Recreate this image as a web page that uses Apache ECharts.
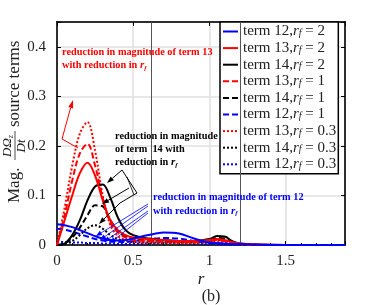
<!DOCTYPE html>
<html><head><meta charset="utf-8">
<script src="https://cdn.jsdelivr.net/npm/echarts@6/dist/echarts.min.js"></script>
<style>html,body{margin:0;padding:0;background:#fff}#c{width:382px;height:305px}</style>
</head><body><div id="c"></div>
<script>
// ---- data ----
const rVals   = [0, 0.05, 0.1, 0.15, 0.2, 0.25, 0.3, 0.35, 0.4, 0.45, 0.5, 0.6, 0.7, 0.8, 0.9, 1.0, 1.05, 1.1, 1.15, 1.2, 1.3, 1.5, 1.89];
const t12_rf2 = [0.042,0.040,0.036,0.030,0.024,0.018,0.013,0.010,0.009,0.010,0.013,0.020,0.025,0.023,0.013,0.005,0.004,0.003,0.002,0.002,0.001,0,0];
const t13_rf2 = [0,0.050,0.100,0.145,0.166,0.140,0.090,0.050,0.030,0.020,0.015,0.012,0.010,0.008,0.008,0.010,0.012,0.010,0.006,0.003,0.001,0,0];
const t14_rf2 = [0,0.003,0.020,0.050,0.090,0.118,0.122,0.095,0.055,0.030,0.020,0.013,0.010,0.008,0.008,0.012,0.018,0.017,0.008,0.003,0.001,0,0];
const t13_rf1 = [0,0.060,0.130,0.185,0.204,0.160,0.095,0.045,0.025,0.015,0.010,0.008,0.007,0.006,0.006,0.008,0.010,0.008,0.005,0.002,0,0,0];
const t14_rf1 = [0,0.003,0.015,0.035,0.060,0.080,0.078,0.050,0.028,0.017,0.012,0.009,0.008,0.007,0.007,0.010,0.014,0.013,0.006,0.002,0,0,0];
const t12_rf1 = [0.033,0.031,0.027,0.022,0.017,0.012,0.009,0.007,0.006,0.006,0.008,0.012,0.014,0.013,0.008,0.004,0.003,0.002,0.001,0.001,0,0,0];
const t13_rf03 = [0,0.075,0.160,0.225,0.248,0.190,0.100,0.040,0.018,0.010,0.007,0.005,0.005,0.004,0.004,0.006,0.008,0.006,0.004,0.001,0,0,0];
const t14_rf03 = [0,0.002,0.008,0.020,0.034,0.040,0.033,0.020,0.012,0.008,0.006,0.005,0.005,0.005,0.005,0.007,0.010,0.009,0.004,0.001,0,0,0];
const t12_rf03 = [0.006,0.006,0.005,0.005,0.004,0.004,0.003,0.003,0.002,0.002,0.002,0.003,0.004,0.004,0.003,0.002,0.002,0.001,0.001,0,0,0,0];
const seriesTerms = ['12','13','14','13','14','12','13','14','12'];
const seriesRf    = ['2','2','2','1','1','1','0.3','0.3','0.3'];
const seriesVals  = [t12_rf2,t13_rf2,t14_rf2,t13_rf1,t14_rf1,t12_rf1,t13_rf03,t14_rf03,t12_rf03];
const xTickLabels = [0, 0.5, 1, 1.5];
const yTickLabels = [0, 0.1, 0.2, 0.3, 0.4];
const vLines = [0.62, 1.2];

// ---- styles ----
const seriesColors = ['#0000ff','#ff0000','#000000','#ff0000','#000000','#0000ff','#ff0000','#000000','#0000ff'];
const seriesDash   = ['solid','solid','solid',[6,3],[6,3],[6,3],[2,2],[2,2],[2,2]];
const SERIF = '"Liberation Serif", "DejaVu Serif", serif';
const subRich = {
  i: {fontFamily: SERIF, fontStyle: 'italic', fontSize: 15, lineHeight: 14},
  s: {fontFamily: SERIF, fontStyle: 'italic', fontSize: 10, lineHeight: 10, verticalAlign: 'bottom', padding: [4,0,0,0]}
};
const annRich = (c) => ({
  i: {fontFamily: SERIF, fontStyle: 'italic', fontWeight: 'bold', fontSize: 11, fill: c},
  s: {fontFamily: SERIF, fontStyle: 'italic', fontWeight: 'bold', fontSize: 7, fill: c, padding: [5,0,0,0]}
});

const names = seriesTerms.map((t,i) => 'term ' + t + ',r_f = ' + seriesRf[i]);
const series = names.map((n,i) => ({
  name: n, type: 'line', symbol: 'none', smooth: 0.35,
  data: rVals.map((r,k) => [r, seriesVals[i][k]]),
  lineStyle: {color: seriesColors[i], width: 2, type: seriesDash[i]},
  itemStyle: {color: seriesColors[i]},
  z: 3 + (9 - i)
}));
series[0].markLine = {
  symbol: 'none', silent: true, label: {show: false},
  lineStyle: {color: '#555', width: 1, type: 'solid'},
  data: vLines.map(v => ({xAxis: v}))
};

function arrow(x1,y1,x2,y2,c,w,hl){
  const a = Math.atan2(y2-y1, x2-x1), L = hl||6, W = 2.5;
  const bx = x2 - L*Math.cos(a), by = y2 - L*Math.sin(a);
  const px = -Math.sin(a)*W, py = Math.cos(a)*W;
  return [
    {type:'line', shape:{x1,y1,x2:bx,y2:by}, style:{stroke:c, lineWidth:w||1}, z:20},
    {type:'polygon', shape:{points:[[x2,y2],[bx+px,by+py],[bx-px,by-py]]}, style:{fill:c}, z:20}
  ];
}

const graphic = [
  // y axis name
  {type:'group', x:15, y:203, rotation: Math.PI/2, children:[
    {type:'text', x:0, y:0, style:{text:'Mag.', font:'17px ' + SERIF, fill:'#222', align:'left', verticalAlign:'middle'}},
    {type:'text', x:57, y:-7, style:{text:'{i|DΩ}{s|z}', align:'center', verticalAlign:'middle', fill:'#222',
       rich:{i:{fontFamily:SERIF, fontStyle:'italic', fontSize:13}, s:{fontFamily:SERIF, fontStyle:'italic', fontSize:8, padding:[5,0,0,0]}}}},
    {type:'line', shape:{x1:43, y1:0, x2:72, y2:0}, style:{stroke:'#222', lineWidth:0.8}},
    {type:'text', x:57, y:7, style:{text:'Dt', font:'italic 13px ' + SERIF, fill:'#222', align:'center', verticalAlign:'middle'}},
    {type:'text', x:76, y:0, style:{text:'source terms', font:'17px ' + SERIF, fill:'#222', align:'left', verticalAlign:'middle'}}
  ]},
  {type:'text', x:201, y:280, style:{text:'r', font:'italic 17px ' + SERIF, fill:'#222', align:'center', verticalAlign:'middle'}},
  {type:'text', x:211, y:297, style:{text:'(b)', font:'16px ' + SERIF, fill:'#222', align:'center', verticalAlign:'middle'}},
  // annotations
  {type:'text', x:62, y:46, z:20, style:{text:'reduction in magnitude of term 13\nwith reduction in {i|r}{s|f}', fontFamily:SERIF, fontWeight:'bold', fontSize:10.3, fill:'#ff0000', lineHeight:13, rich: annRich('#ff0000')}},
  {type:'text', x:115, y:130, z:20, style:{text:'reduction in magnitude\nof term  14 with\nreduction in {i|r}{s|f}', fontFamily:SERIF, fontWeight:'bold', fontSize:10.3, fill:'#000', lineHeight:13, rich: annRich('#000')}},
  {type:'text', x:153, y:190, z:20, style:{text:'reduction in magnitude of term 12\nwith reduction in {i|r}{s|f}', fontFamily:SERIF, fontWeight:'bold', fontSize:10.3, fill:'#0000ff', lineHeight:14, rich: annRich('#0000ff')}},
  {type:'polyline', shape:{points:[[78,148],[62,139],[70,110]]}, style:{stroke:'#ff0000', lineWidth:1, fill:null}, z:20},
  ...arrow(70,110,73,100,'#ff0000',1,8),
  {type:'polyline', shape:{points:[[122,170],[137,193],[120,203]]}, style:{stroke:'#000', lineWidth:1, fill:null}, z:20},
  {type:'line', shape:{x1:127,y1:177,x2:134,y2:195}, style:{stroke:'#000', lineWidth:0.8}, z:20},
  ...arrow(122,170,107,183,'#000',1,7),
  ...arrow(129,188,102,204,'#000',1,7),
  ...arrow(120,203,99,224,'#000',1,7),
  ...arrow(148,204,96,236,'#0000ff',0.8,6),
  ...arrow(148,206,100,240,'#0000ff',0.8,6),
  ...arrow(148,211,104,242,'#0000ff',0.8,6),
  ...arrow(148,213,110,243,'#0000ff',0.8,6)
];

const axisCommon = {
  type:'value', axisLine:{show:true, onZero:false, lineStyle:{color:'#000', width:1.5}},
  axisTick:{show:true, inside:true, length:4, lineStyle:{color:'#000', width:1}}
};

const option = {
  animation: false,
  backgroundColor: '#fff',
  grid: {left:57, right:37, top:22, bottom:60, show:true, borderColor:'#000', borderWidth:1.5, backgroundColor:'transparent'},
  xAxis: [
    Object.assign({}, axisCommon, {min:0, max:1.89, interval:0.5, position:'bottom',
      minorTick:{show:true, splitNumber:5, length:2, lineStyle:{color:'#000'}},
      splitLine:{show:true, lineStyle:{color:'#e0e0e0', width:1.5}},
      axisLabel:{fontFamily:SERIF, fontSize:15, color:'#222', margin:9,
        formatter: v => xTickLabels.some(t => Math.abs(t - v) < 1e-9) ? String(v) : ''}}),
    Object.assign({}, axisCommon, {min:0, max:1.89, interval:0.5, position:'top',
      splitLine:{show:false}, axisLabel:{show:false}})
  ],
  yAxis: [
    Object.assign({}, axisCommon, {min:0, max:0.45, interval:0.1, position:'left',
      splitLine:{show:true, lineStyle:{color:'#e0e0e0', width:1.5}},
      axisLabel:{fontFamily:SERIF, fontSize:15, color:'#222', margin:11,
        formatter: v => yTickLabels.some(t => Math.abs(t - v) < 1e-9) ? String(+v.toFixed(2)) : ''}}),
    Object.assign({}, axisCommon, {min:0, max:0.45, interval:0.1, position:'right',
      splitLine:{show:false}, axisLabel:{show:false}})
  ],
  legend: {
    orient:'vertical', left:220, top:22, itemWidth:15, itemHeight:14, itemGap:1.6,
    itemTextGap:3, padding:[2,2,2,2], borderColor:'#000', borderWidth:1.5, backgroundColor:'#fff',
    itemStyle: {opacity: 0, borderWidth: 0},
    data: names,
    formatter: n => n.replace('r_f', '{i|r}{s|f}'),
    textStyle: {fontFamily:SERIF, fontSize:15, color:'#222', lineHeight:14, rich: subRich}
  },
  series: series,
  graphic: graphic
};
const chart = echarts.init(document.getElementById('c'), null, {renderer:'canvas'});
chart.setOption(option);
</script></body></html>
